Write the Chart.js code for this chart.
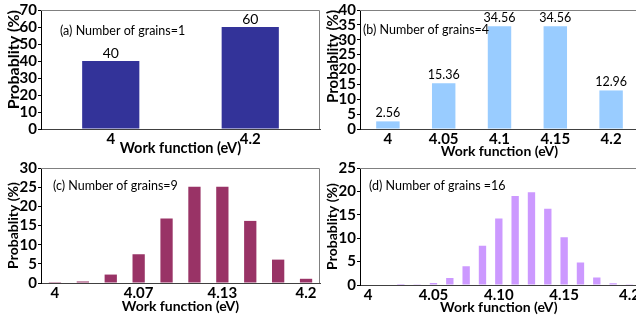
<!DOCTYPE html>
<html>
<head>
<meta charset="utf-8">
<script src="https://cdn.jsdelivr.net/npm/chart.js@4.4.1/dist/chart.umd.min.js"></script>
<style>
  html, body { margin: 0; padding: 0; background: #fff; }
  body { position: relative; width: 636px; height: 324px; overflow: hidden; }
  canvas { position: absolute; }
</style>
</head>
<body>
<canvas id="chartA" width="321" height="160" style="left:0;top:0"></canvas>
<canvas id="chartB" width="320" height="160" style="left:321px;top:0"></canvas>
<canvas id="chartC" width="321" height="166" style="left:0;top:158px"></canvas>
<canvas id="chartD" width="320" height="166" style="left:321px;top:158px"></canvas>
<script>
// (a) one grain
const catsA = ['4', '4.2'];
const valsA = [40, 60];
const ticksA = ['4', '4.2'];

// (b) four grains
const catsB = ['4', '4.05', '4.1', '4.15', '4.2'];
const valsB = [2.56, 15.36, 34.56, 34.56, 12.96];
const ticksB = ['4', '4.05', '4.1', '4.15', '4.2'];

// (c) nine grains
const catsC = ['4', '4.022', '4.044', '4.067', '4.089', '4.111', '4.133', '4.156', '4.178', '4.2'];
const valsC = [0.03, 0.4, 2.2, 7.5, 16.8, 25.1, 25.1, 16.2, 6.1, 1.1];
const ticksC = ['4', '', '', '4.07', '', '', '4.13', '', '', '4.2'];

// (d) sixteen grains
const catsD = ['4', '4.0125', '4.025', '4.0375', '4.05', '4.0625', '4.075', '4.0875', '4.1',
  '4.1125', '4.125', '4.1375', '4.15', '4.1625', '4.175', '4.1875', '4.2'];
const valsD = [0, 0, 0.01, 0.15, 0.45, 1.5, 4.0, 8.4, 14.2, 19.0, 19.8, 16.3, 10.2, 4.8, 1.6, 0.35, 0.03];
const ticksD = ['4', '', '', '', '4.05', '', '', '', '4.10', '', '', '', '4.15', '', '', '', '4.2'];

const notes = ['(a) Number of grains=1', '(b) Number of grains=4', '(c) Number of grains=9', '(d) Number of grains =16'];

const FONT = 'Lato';

// top + right edge of the plot box
const framePlugin = {
    id: 'frame',
    afterDatasetsDraw(chart) {
        const { ctx, chartArea: a } = chart;
        ctx.save();
        ctx.strokeStyle = '#808080';
        ctx.lineWidth = 1;
        ctx.beginPath();
        ctx.moveTo(a.left, a.top + 0.5);
        ctx.lineTo(a.right - 0.5, a.top + 0.5);
        ctx.lineTo(a.right - 0.5, a.bottom);
        ctx.stroke();
        ctx.restore();
    }
};

// value labels over bars + the panel note
const textPlugin = {
    id: 'panelText',
    afterDatasetsDraw(chart, args, opts) {
        const { ctx, chartArea: a } = chart;
        ctx.save();
        ctx.fillStyle = '#000';
        if (opts.labels) {
            ctx.font = `normal ${opts.labelSize}px ${FONT}`;
            ctx.textAlign = 'center';
            ctx.textBaseline = 'middle';
            const meta = chart.getDatasetMeta(0);
            const data = chart.data.datasets[0].data;
            meta.data.forEach((bar, i) => {
                ctx.fillText(String(data[i]), bar.x, bar.y - 8);
            });
        }
        ctx.font = `normal 12.5px ${FONT}`;
        ctx.textAlign = 'left';
        ctx.textBaseline = 'middle';
        ctx.fillText(opts.note, a.left + opts.noteX, a.top + opts.noteY);
        ctx.restore();
    }
};

function makePanel(id, p) {
    return new Chart(document.getElementById(id), {
        type: 'bar',
        data: {
            labels: p.cats,
            datasets: [{
                data: p.vals,
                backgroundColor: p.color,
                borderWidth: 0,
                categoryPercentage: 1,
                barPercentage: p.barPct
            }]
        },
        options: {
            responsive: false,
            animation: false,
            layout: { padding: { left: 0, top: p.padTop, right: p.padRight, bottom: 0 } },
            plugins: {
                legend: { display: false },
                tooltip: { enabled: false },
                panelText: { labels: p.labels, labelSize: p.labelSize, note: p.note, noteX: p.noteX, noteY: p.noteY }
            },
            scales: {
                x: {
                    grid: { display: false, drawTicks: false },
                    border: { display: true, color: '#404040' },
                    ticks: {
                        autoSkip: false, maxRotation: 0, minRotation: 0,
                        padding: p.xTickPad, color: '#000',
                        font: { family: FONT, size: 15, weight: 'bold' },
                        callback: (v, i) => p.ticks[i]
                    },
                    title: {
                        display: true, text: 'Work function (eV)', color: '#000',
                        font: { family: FONT, size: p.xTitleSize, weight: 'bold' },
                        padding: { top: 0, bottom: p.xTitlePad }
                    },
                    afterFit: s => { s.height = p.xHeight; }
                },
                y: {
                    min: 0, max: p.yMax,
                    grid: { drawOnChartArea: false, drawTicks: true, tickLength: 3, color: '#000' },
                    border: { display: true, color: '#000' },
                    ticks: {
                        stepSize: p.yStep, autoSkip: false, padding: 1, color: '#000',
                        font: { family: FONT, size: 15, weight: 'bold' }
                    },
                    title: {
                        display: true, text: 'Probablity (%)', color: '#000', align: p.yAlign,
                        font: { family: FONT, size: p.yTitleSize, weight: 'bold' },
                        padding: { top: p.yTitlePad, bottom: 0 }
                    },
                    afterFit: s => { s.width = p.yWidth; }
                }
            }
        },
        plugins: [framePlugin, textPlugin]
    });
}

makePanel('chartA', {
    cats: catsA, vals: valsA, ticks: ticksA, color: '#333399', barPct: 0.41,
    padTop: 5, padRight: 1, yWidth: 41, xHeight: 31, yMax: 70, yStep: 10,
    xTickPad: 1, xTitleSize: 14.5, xTitlePad: 3, yTitleSize: 16, yTitlePad: 4, yAlign: 'end',
    labels: true, labelSize: 14, note: notes[0], noteX: 19, noteY: 21
});

makePanel('chartB', {
    cats: catsB, vals: valsB, ticks: ticksB, color: '#99CCFF', barPct: 0.42,
    padTop: 5, padRight: 2, yWidth: 39, xHeight: 31, yMax: 40, yStep: 5,
    xTickPad: 1, xTitleSize: 14, xTitlePad: 0, yTitleSize: 15, yTitlePad: 3, yAlign: 'end',
    labels: true, labelSize: 12.5, note: notes[1], noteX: 3, noteY: 20
});

makePanel('chartC', {
    cats: catsC, vals: valsC, ticks: ticksC, color: '#993366', barPct: 0.44,
    padTop: 2, padRight: 1, yWidth: 41, xHeight: 41, yMax: 30, yStep: 5,
    xTickPad: 1, xTitleSize: 14, xTitlePad: 9, yTitleSize: 14, yTitlePad: 5, yAlign: 'center',
    labels: false, labelSize: 12, note: notes[2], noteX: 12, noteY: 18
});

makePanel('chartD', {
    cats: catsD, vals: valsD, ticks: ticksD, color: '#CC99FF', barPct: 0.45,
    padTop: 4, padRight: 2, yWidth: 39, xHeight: 39, yMax: 25, yStep: 5,
    xTickPad: 1, xTitleSize: 14, xTitlePad: 8, yTitleSize: 14, yTitlePad: 3.5, yAlign: 'center',
    labels: false, labelSize: 12, note: notes[3], noteX: 9, noteY: 18
});
</script>
</body>
</html>
